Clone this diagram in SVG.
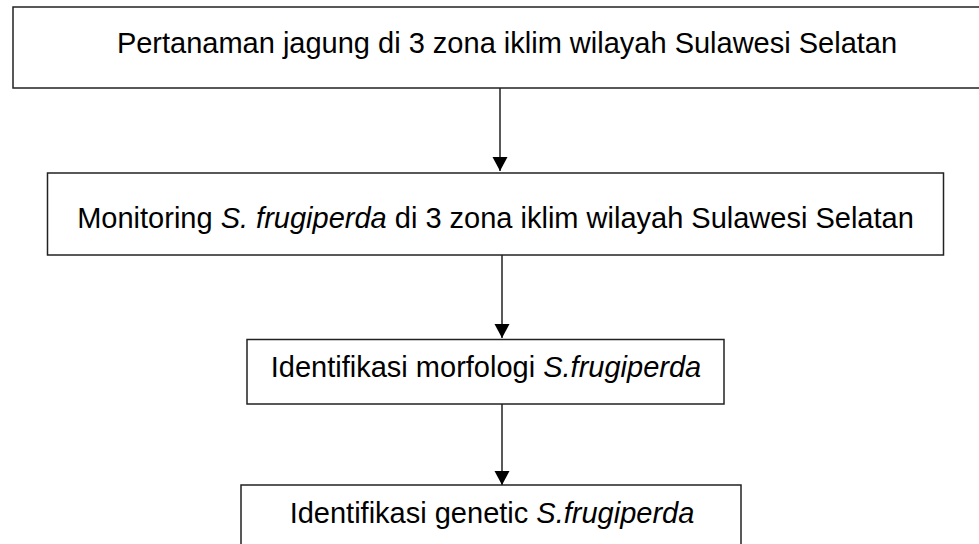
<svg xmlns="http://www.w3.org/2000/svg" width="979" height="544" viewBox="0 0 979 544">
<defs>
<style>
.box{fill:#ffffff;stroke:#222;stroke-width:1.5}
.lbl{font-family:"Liberation Sans",Arial,sans-serif;font-size:29px;fill:#000;text-anchor:middle}
.conn{stroke:#222;stroke-width:1.5;fill:none}
.it{font-style:italic}
</style>
<marker id="arr" markerUnits="userSpaceOnUse" markerWidth="16" markerHeight="16" refX="14" refY="7.5" orient="auto">
<path d="M0,0 L14,7.5 L0,15 Z" fill="#000"/>
</marker>
</defs>
<rect width="979" height="544" fill="#ffffff"/>
<g id="node1">
<rect class="box" x="13" y="7" width="975" height="81"/>
<text class="lbl" x="507" y="53">Pertanaman jagung di 3 zona iklim wilayah Sulawesi Selatan</text>
</g>
<g id="node2">
<rect class="box" x="47.5" y="173" width="896" height="82"/>
<text class="lbl" x="495.5" y="228">Monitoring <tspan class="it">S. frugiperda</tspan> di 3 zona iklim wilayah Sulawesi Selatan</text>
</g>
<g id="node3">
<rect class="box" x="247" y="339.5" width="477" height="64.5"/>
<text class="lbl" x="486" y="377">Identifikasi morfologi <tspan class="it">S.frugiperda</tspan></text>
</g>
<g id="node4">
<rect class="box" x="241" y="485" width="500" height="80"/>
<text class="lbl" x="492" y="523">Identifikasi genetic <tspan class="it">S.frugiperda</tspan></text>
</g>
<g id="connectors">
<line class="conn" x1="500" y1="88" x2="500" y2="171" marker-end="url(#arr)"/>
<line class="conn" x1="502" y1="255" x2="502" y2="338" marker-end="url(#arr)"/>
<line class="conn" x1="502" y1="404" x2="502" y2="485" marker-end="url(#arr)"/>
</g>
</svg>
